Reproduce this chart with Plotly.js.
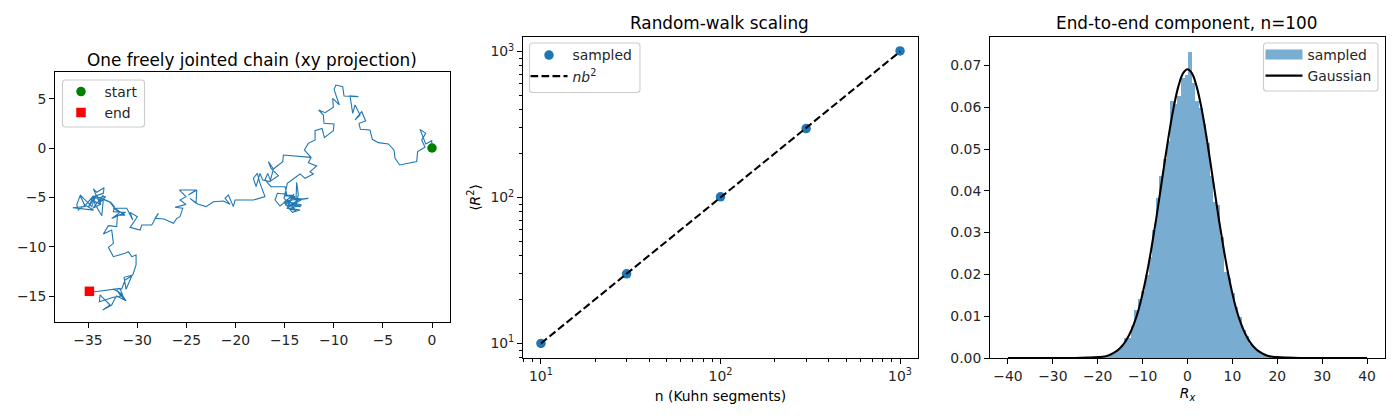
<!DOCTYPE html>
<html>
<head>
<meta charset="utf-8">
<script src="https://cdn.plot.ly/plotly-3.0.1.min.js"></script>
<style>html,body{margin:0;padding:0;background:#fff}</style>
</head>
<body>
<div id="chart" style="width:1400px;height:420px"></div>
<script>
// one chain, xy projection
var chainX = [0,-0.03,-0.64,-1.22,-0.64,-1.05,-0.71,-1.46,-1.56,-3.29,-3.76,-3.87,-4.44,-5.46,-6.07,-6.31,-7.29,-7.43,-6.75,-7.15,-7.83,-7.32,-7.83,-8.07,-8.34,-7.49,-8.95,-9.09,-9.77,-9.97,-9.43,-10.11,-10.04,-10.88,-11.53,-11.05,-10.99,-9.97,-10.04,-10.95,-11.19,-11.9,-11.9,-12.58,-12.99,-12.31,-15.12,-15.19,-16.14,-16.65,-16.48,-16.38,-15.63,-16.41,-16.72,-16.99,-16.38,-14.95,-14.78,-15.73,-15.97,-15.46,-14.72,-13.94,-13.6,-13.77,-13.84,-12.58,-14.28,-14.95,-13.36,-14.62,-13.26,-14.45,-13.43,-14.21,-14.95,-13.94,-14.95,-14.11,
  -15.06,-14.04,-14.72,-13.6,-14.51,-13.16,-14.78,-13.84,-15.06,
  -14.72,-13.43,-12.92,-12.07,-12.41,-11.73,-12.58,-12.31,-15.12,-15.19,-16.14,-16.48,-17.23,-17.5,-17.9,-18.18,-17.77,-17.5,-16.99,-18.18,-20.04,-20.21,-20.72,-21.06,-20.55,-21.23,-22.24,-22.99,-23.77,-24.62,-24.01,-23.94,-24.79,-24.01,-25.7,-25.03,-25.64,-25.03,-26.14,-25.36,-25.64,-25.97,-26.31,-27.26,-28.18,-27.84,-28.52,-29.54,-29.7,-30.72,-29.98,-30.72,-30.45,-31.06,-32.42,-31.74,-32.59,-31.16,-32.42,-32.32,-32.69,-33.44,-33.6,-34.28,-34.45,-33.44,-33.37,-34.11,-34.45,-34.18,-34.62,-35.81,-35.3,-36.56,-34.45,-35.3,-35.98,-36.15,-35.81,
  -35.3,-34.45,-34.96,-34.11,-33.71,-34.52,-33.44,-33.87,-33.2,
  -34.79,-33.77,-34.11,-32.76,-32.35,-31.23,-32.01,-32.08,-32.93,-33.44,-32.59,-32.42,-32.93,-32.42,-31.23,-30.89,-30.55,-30.11,-30.11,-30.45,-31.33,-31.13,-30.55,-31.23,-31.57,-32.42,-31.67,-31.13,-32.08,-32.25,-32.59,-33.5,-32.76,-33.78,-33.84,-32.42,-31.67,
  -32.08,-31.47,-31.91,-31.33,
  -31.74,-32.42,-34.28,-34.86];
var chainY = [0,0.74,0.41,1.89,1.49,0.81,0.07,-0.37,-1.38,-1.72,-1.05,-0.2,0.41,0.54,0.88,1.82,1.89,2.5,2.74,3.68,2.84,3.34,4.36,3.51,5.27,5.2,5.27,6.21,6.38,5.94,4.36,5.03,4.12,3.58,3.85,3.34,2.5,2.43,1.76,1.05,1.99,1.76,0.81,0.47,-0.2,-0.95,-0.71,-1.38,-2.13,-1.38,-1.72,-2.06,-2.8,-3.34,-2.57,-3.24,-3.92,-3.92,-4.69,-4.59,-5.27,-5.88,-5.27,-5.84,-4.76,-3.48,-5.27,-5.1,-5.27,-5.78,-5.94,-5.44,-5.78,-6.11,-6.28,-6.52,-5.61,-4.93,-4.83,-4.76,
  -5.5,-4.69,-5.94,-5.27,-5.03,-5.17,-6.11,-6.32,-5.1,
  -3.58,-2.63,-3.07,-2.63,-2.4,-1.82,-1.49,-0.95,-0.71,-1.38,-2.13,-3.41,-3.24,-2.57,-3.92,-3.07,-2.57,-3.58,-4.93,-5.27,-5.27,-5.94,-4.76,-5.1,-5.71,-5.37,-5.44,-5.94,-5.71,-5.1,-5.61,-4.26,-4.76,-4.26,-4.26,-4.93,-5.27,-5.71,-6.01,-6.11,-6.96,-7.13,-7.63,-7.19,-7.13,-6.62,-7.8,-7.8,-8.31,-8.04,-6.96,-6.52,-7.29,-6.11,-6.11,-6.52,-7.13,-6.52,-6.45,-5.94,-5.5,-5.17,-6.86,-5.71,-4.93,-4.59,-4.02,-4.49,-4.15,-4.76,-5.94,-4.76,-5.94,-6.05,-6.29,-5.78,-6.29,-5.78,-4.83,
  -5.84,-4.83,-6.01,-4.76,-5.71,-6.11,-4.76,-5.61,-4.93,
  -5.17,-5.71,-4.93,-5.5,-6.05,-6.8,-6.79,-7.97,-7.87,-8.71,-8.31,-9.66,-10.06,-11.01,-10.67,-10.5,-11.01,-10.84,-11.85,-12.87,-13.1,-14.32,-12.97,-13.37,-14.29,-14.29,-14.73,-15.47,-14.99,-15.23,-15.91,-16.41,-15.91,-14.89,-15.57,-15.13,-15,
  -14.39,-15.13,-14.56,-15.33,
  -14.22,-14.32,-14.56,-14.52];
var startX = [0], startY = [0];
var endX = [-34.86], endY = [-14.52];

// random-walk scaling
var segments = [10, 30, 100, 300, 1000];
var meanR2 = [10, 30, 101, 297, 1010];
var idealR2 = [10, 30, 100, 300, 1000];
var logTicks = [10, 100, 1000];
var logTickText = ['10<sup>1</sup>', '10<sup>2</sup>', '10<sup>3</sup>'];
var logMinorTicks = [8,9,20,30,40,50,60,70,80,90,200,300,400,500,600,700,800,900];

// end-to-end histogram, n=100
var binCenters = [-20.25,-19.45,-18.65,-17.85,-17.05,-16.25,-15.45,-14.65,-13.85,-13.05,-12.25,-11.45,-10.65,-9.85,-9.05,-8.25,-7.45,-6.65,-5.85,-5.05,-4.25,-3.45,-2.65,-1.85,-1.05,-0.25,0.55,1.35,2.15,2.95,3.75,4.55,5.35,6.15,6.95,7.75,8.55,9.35,10.15,10.95,11.75,12.55,13.35,14.15,14.95,15.75,16.55,17.35,18.15,18.95,19.75,20.55,21.35];
var binHeights = [0.0001,0.0002,0.0003,0.0005,0.0009,0.0012,0.0019,0.0029,0.0048,0.0048,0.0076,0.0115,0.0141,0.016,0.0198,0.0241,0.0306,0.0382,0.0435,0.0475,0.052,0.0614,0.0607,0.0628,0.0669,0.0678,0.0731,0.0659,0.0616,0.0598,0.056,0.0515,0.0435,0.0373,0.0365,0.0289,0.0205,0.0191,0.0155,0.0122,0.0098,0.0067,0.0053,0.0034,0.0026,0.0016,0.0011,0.0007,0.0004,0.0003,0.0002,0.0001,0.0001];
var gaussX = [-40,-30,-25,-22,-20,-19,-18,-17,-16,-15,-14,-13,-12,-11,-10,-9,-8,-7,-6,-5,-4,-3,-2,-1,0,1,2,3,4,5,6,7,8,9,10,11,12,13,14,15,16,17,18,19,20,22,25,30,40];
var gaussY = [0,0,0,0.0001,0.0002,0.0003,0.0005,0.0009,0.0015,0.0024,0.0037,0.0055,0.008,0.0112,0.0154,0.0205,0.0265,0.0331,0.0403,0.0475,0.0544,0.0604,0.0651,0.0681,0.0691,0.0681,0.0651,0.0604,0.0544,0.0475,0.0403,0.0331,0.0265,0.0205,0.0154,0.0112,0.008,0.0055,0.0037,0.0024,0.0015,0.0009,0.0005,0.0003,0.0002,0.0001,0,0,0];

var blue = '#1f77b4';
var W = 1400, H = 420;
var fontFam = '"DejaVu Sans", sans-serif';

function axisStyle(extra) {
  var ax = {
    showline: true, mirror: true, linecolor: '#000', linewidth: 1.1,
    ticks: 'outside', ticklen: 4.9, tickwidth: 1.1, tickcolor: '#000',
    showgrid: false, zeroline: false,
    tickfont: {family: fontFam, size: 13.9, color: '#262626'}
  };
  for (var k in extra) ax[k] = extra[k];
  return ax;
}
function legendStyle(px, py) {
  return {
    x: px / W, y: 1 - py / H, xanchor: 'left', yanchor: 'top',
    bgcolor: 'rgba(0,0,0,0)', borderwidth: 0,
    font: {family: fontFam, size: 13.9, color: '#262626'}, itemwidth: 37
  };
}
// rounded legend frame, the plain legend border has square corners
function legendFrame(x0, y0, x1, y1) {
  var r = 3;
  function fx(p) { return (p / W).toFixed(5); }
  function fy(p) { return (1 - p / H).toFixed(5); }
  return {
    type: 'path', xref: 'paper', yref: 'paper', layer: 'above',
    fillcolor: 'rgba(255,255,255,0.8)', line: {color: '#cccccc', width: 1.1},
    path: 'M' + fx(x0 + r) + ',' + fy(y0) + ' L' + fx(x1 - r) + ',' + fy(y0) +
      ' Q' + fx(x1) + ',' + fy(y0) + ' ' + fx(x1) + ',' + fy(y0 + r) +
      ' L' + fx(x1) + ',' + fy(y1 - r) +
      ' Q' + fx(x1) + ',' + fy(y1) + ' ' + fx(x1 - r) + ',' + fy(y1) +
      ' L' + fx(x0 + r) + ',' + fy(y1) +
      ' Q' + fx(x0) + ',' + fy(y1) + ' ' + fx(x0) + ',' + fy(y1 - r) +
      ' L' + fx(x0) + ',' + fy(y0 + r) +
      ' Q' + fx(x0) + ',' + fy(y0) + ' ' + fx(x0 + r) + ',' + fy(y0) + ' Z'
  };
}
function titleNote(text, px, py) {
  return {
    text: text, x: px / W, y: 1 - py / H, xref: 'paper', yref: 'paper',
    xanchor: 'center', yanchor: 'middle', showarrow: false,
    font: {family: fontFam, size: 16.85, color: '#000'}
  };
}

var data = [
  {x: chainX, y: chainY, mode: 'lines', type: 'scatter', line: {color: blue, width: 1.1}, showlegend: false, xaxis: 'x', yaxis: 'y'},
  {x: startX, y: startY, mode: 'markers', type: 'scatter', name: 'start', marker: {color: 'green', size: 9.5, symbol: 'circle'}, xaxis: 'x', yaxis: 'y', legend: 'legend'},
  {x: endX, y: endY, mode: 'markers', type: 'scatter', name: 'end', marker: {color: 'red', size: 9.5, symbol: 'square'}, xaxis: 'x', yaxis: 'y', legend: 'legend'},
  {x: segments, y: meanR2, mode: 'markers', type: 'scatter', name: 'sampled', marker: {color: blue, size: 9.5}, xaxis: 'x2', yaxis: 'y2', legend: 'legend2'},
  {x: segments, y: idealR2, mode: 'lines', type: 'scatter', name: '<i>nb</i><sup>2</sup>', line: {color: '#000', width: 2.08, dash: '7.7px,3.3px'}, xaxis: 'x2', yaxis: 'y2', legend: 'legend2'},
  {x: binCenters, y: binHeights, type: 'bar', showlegend: false, width: 0.8, marker: {color: blue, line: {width: 0}}, opacity: 0.6, xaxis: 'x3', yaxis: 'y3'},
  // empty trace, only gives the legend the wide patch of the histogram
  {x: [null], y: [null], mode: 'lines', type: 'scatter', name: 'sampled', line: {color: 'rgba(31,119,180,0.6)', width: 14}, xaxis: 'x3', yaxis: 'y3', legend: 'legend3'},
  {x: gaussX, y: gaussY, mode: 'lines', type: 'scatter', name: 'Gaussian', line: {color: '#000', width: 2.08, shape: 'spline'}, xaxis: 'x3', yaxis: 'y3', legend: 'legend3'}
];

var layout = {
  width: W, height: H,
  margin: {l: 0, r: 0, t: 0, b: 0, pad: 0},
  paper_bgcolor: '#fff', plot_bgcolor: '#fff',
  bargap: 0,
  font: {family: fontFam, size: 13.9, color: '#000'},
  xaxis: axisStyle({domain: [55 / W, 450 / W], range: [-38.36, 1.83], dtick: 5, anchor: 'y'}),
  yaxis: axisStyle({domain: [1 - 322 / H, 1 - 72 / H], range: [-17.63, 7.7], dtick: 5, anchor: 'x'}),
  xaxis2: axisStyle({
    domain: [523 / W, 918 / W], type: 'log', range: [0.9, 3.1], anchor: 'y2',
    tickvals: logTicks, ticktext: logTickText,
    minor: {tickvals: logMinorTicks, ticks: 'outside', ticklen: 2.8, tickwidth: 0.8, tickcolor: '#000', showgrid: false},
    title: {text: 'n (Kuhn segments)', font: {family: fontFam, size: 13.9, color: '#000'}, standoff: 8}
  }),
  yaxis2: axisStyle({
    domain: [1 - 358 / H, 1 - 37 / H], type: 'log', range: [0.9, 3.1], anchor: 'x2',
    tickvals: logTicks, ticktext: logTickText,
    minor: {tickvals: logMinorTicks, ticks: 'outside', ticklen: 2.8, tickwidth: 0.8, tickcolor: '#000', showgrid: false},
    title: {text: '⟨<i>R</i><sup>2</sup>⟩', font: {family: fontFam, size: 13.9, color: '#000'}, standoff: 6}
  }),
  xaxis3: axisStyle({
    domain: [990 / W, 1385 / W], range: [-44, 44], dtick: 10, anchor: 'y3',
    title: {text: '<i>R<sub>x</sub></i>', font: {family: fontFam, size: 13.9, color: '#000'}, standoff: 5}
  }),
  yaxis3: axisStyle({domain: [1 - 358 / H, 1 - 37 / H], range: [0, 0.0768], dtick: 0.01, tickformat: '.2f', anchor: 'x3'}),
  legend: legendStyle(57.5, 76),
  legend2: legendStyle(525.5, 39.5),
  legend3: legendStyle(1260.5, 39),
  shapes: [
    legendFrame(62.5, 80, 144.5, 127),
    legendFrame(529.5, 43, 640, 92.5),
    legendFrame(1263.5, 43, 1378, 91)
  ],
  annotations: [
    titleNote('One freely jointed chain (xy projection)', 252, 60),
    titleNote('Random-walk scaling', 720, 23),
    titleNote('End-to-end component, n=100', 1186.5, 23)
  ]
};

Plotly.newPlot('chart', data, layout, {displayModeBar: false, responsive: false});
</script>
</body>
</html>
